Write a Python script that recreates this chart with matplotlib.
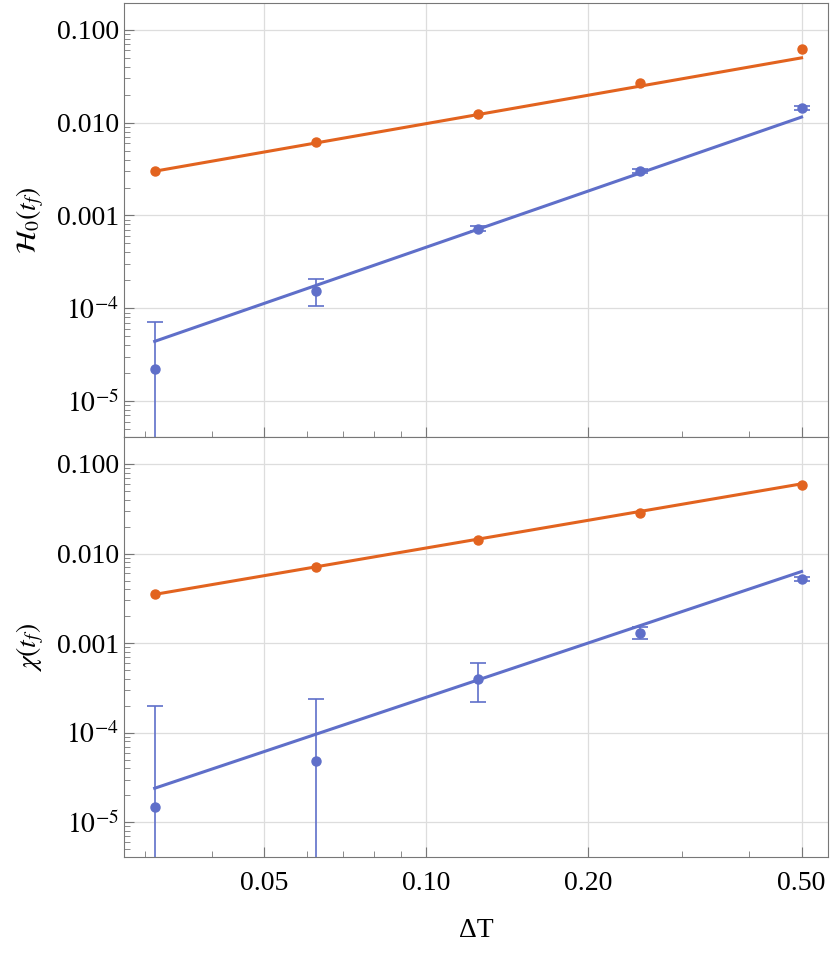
import matplotlib
matplotlib.use("Agg")
import matplotlib.pyplot as plt
import numpy as np

plt.rcParams["font.family"] = "Liberation Serif"
plt.rcParams["mathtext.fontset"] = "stix"

dT = [0.03125, 0.0625, 0.125, 0.25, 0.5]
fit_x = [0.03125, 0.5]

h_orange = [0.0030, 0.0062, 0.0125, 0.027, 0.062]
h_orange_fit = [0.0030, 0.050]
h_blue = [2.2e-5, 1.55e-4, 7.2e-4, 3.0e-3, 0.0145]
h_blue_lo = [1e-7, 1.05e-4, 6.8e-4, 2.85e-3, 0.0138]
h_blue_hi = [7.2e-5, 2.05e-4, 7.7e-4, 3.15e-3, 0.0152]
h_blue_fit = [4.4e-5, 0.0115]

c_orange = [0.0035, 0.0070, 0.014, 0.028, 0.058]
c_orange_fit = [0.0035, 0.060]
c_blue = [1.5e-5, 4.8e-5, 4.0e-4, 1.3e-3, 5.2e-3]
c_blue_lo = [1e-7, 1e-7, 2.2e-4, 1.1e-3, 4.95e-3]
c_blue_hi = [2.0e-4, 2.4e-4, 6.0e-4, 1.5e-3, 5.45e-3]
c_blue_fit = [2.4e-5, 6.3e-3]

yticks = [1e-5, 1e-4, 1e-3, 1e-2, 1e-1]
ylabels = [r"$10^{-5}$", r"$10^{-4}$", "0.001", "0.010", "0.100"]
xticks = [0.05, 0.10, 0.20, 0.50]
xlabels = ["0.05", "0.10", "0.20", "0.50"]

OR = "#E2631F"
BL = "#5F6FC9"

fig = plt.figure(figsize=(8.30, 9.72), dpi=100)
ax1 = fig.add_axes([124/830, 1-437/972, (828-124)/830, 434/972])
ax2 = fig.add_axes([124/830, 1-857/972, (828-124)/830, 420/972])

def panel(ax, orange, ofit, blue, lo, hi, bfit, ylim, ylabel):
    ax.set_xscale("log"); ax.set_yscale("log")
    ax.plot(fit_x, ofit, color=OR, lw=2.2, zorder=2)
    ax.plot(fit_x, bfit, color=BL, lw=2.2, zorder=2)
    ax.plot(dT, orange, "o", color=OR, ms=6.5, zorder=3)
    b = np.array(blue)
    yerr = [b - np.array(lo), np.array(hi) - b]
    ax.errorbar(dT, blue, yerr=yerr, fmt="o", color=BL, ms=6.5, elinewidth=1.2, capsize=6, capthick=1.2, zorder=3)
    ax.set_xlim(0.0274, 0.56)
    ax.set_ylim(*ylim)
    ax.set_yticks(yticks); ax.set_yticklabels(ylabels, fontsize=20)
    ax.set_xticks(xticks)
    ax.grid(True, which="major", color="#dddddd", lw=0.9)
    ax.tick_params(which="both", direction="in", color="#777777")
    ax.tick_params(which="major", length=7)
    ax.tick_params(which="minor", length=4)
    for s in ax.spines.values():
        s.set_color("#777777")
    ax.set_ylabel(ylabel, fontsize=20, labelpad=8)

panel(ax1, h_orange, h_orange_fit, h_blue, h_blue_lo, h_blue_hi, h_blue_fit, (4.1e-6, 0.195), r"$\mathcal{H}_0(t_f)$")
panel(ax2, c_orange, c_orange_fit, c_blue, c_blue_lo, c_blue_hi, c_blue_fit, (4.1e-6, 0.2), r"$\chi(t_f)$")
ax1.set_xticklabels([])
ax1.tick_params(axis="x", which="both", labelbottom=False)
ax2.set_xticklabels(xlabels, fontsize=20)
ax2.tick_params(axis="x", pad=10)
ax2.set_xlabel("ΔT", fontsize=20, labelpad=16)

fig.savefig("out.png", dpi=100)
